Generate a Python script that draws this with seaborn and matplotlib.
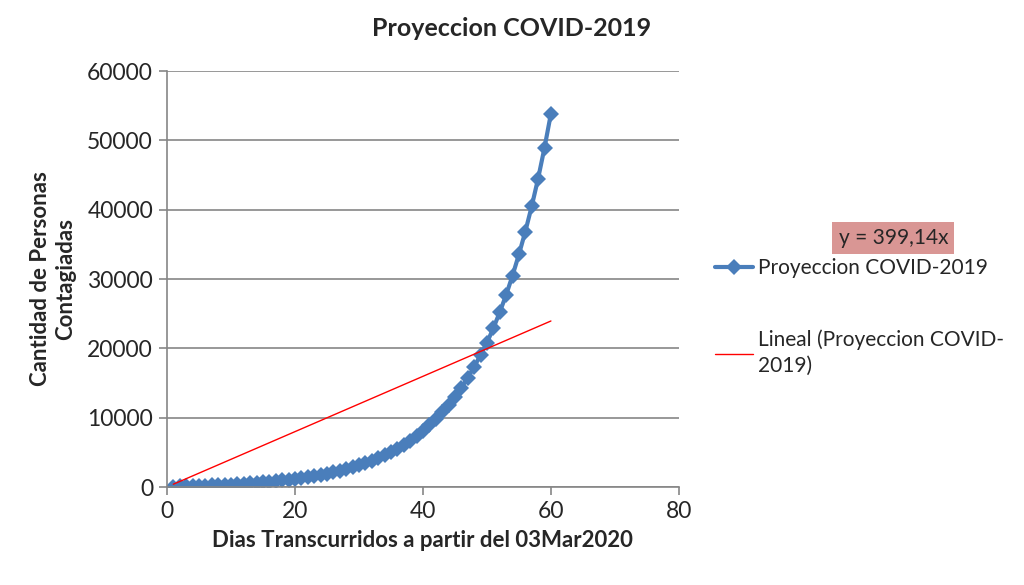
import numpy as np
import pandas as pd
import matplotlib
matplotlib.use("Agg")
import matplotlib.pyplot as plt
import seaborn as sns

# Proyeccion de contagios COVID-2019 con linea de tendencia lineal (y = 399,14x)

dias = list(range(1, 61))
contagiados = [
    60, 80, 105, 130, 160, 190, 225, 265, 310, 360,
    415, 475, 540, 610, 690, 775, 870, 970, 1080, 1200,
    1320, 1450, 1600, 1760, 1930, 2130, 2340, 2580, 2840, 3110,
    3420, 3760, 4140, 4560, 5010, 5510, 6070, 6680, 7350, 8080,
    8890, 9780, 10760, 11830, 13020, 14300, 15750, 17320, 19050, 20810,
    22900, 25200, 27700, 30500, 33550, 36850, 40500, 44500, 48950, 53850,
]

pendiente = 399.14
titulo = "Proyeccion COVID-2019"
serie_label = "Proyeccion COVID-2019"
tendencia_label = "Lineal (Proyeccion COVID-\n2019)"
ecuacion = "y = 399,14x"

df = pd.DataFrame({"dia": dias, "casos": contagiados})
df["tendencia"] = pendiente * df["dia"]

sns.set_style("white")
plt.rcParams["font.family"] = ["Lato", "DejaVu Sans"]

fig = plt.figure(figsize=(10.24, 5.85), dpi=100)
ax = fig.add_axes([0.163, 0.1675, 0.5, 0.711])

sns.lineplot(data=df, x="dia", y="casos", ax=ax, color="#4A7EBB", linewidth=3,
             marker="D", markersize=8, markeredgewidth=0, label=serie_label)
sns.lineplot(data=df, x="dia", y="tendencia", ax=ax, color="#FF0000", linewidth=1,
             label=tendencia_label)

ax.set_xlim(0, 80)
ax.set_ylim(0, 60000)
ax.set_xticks(range(0, 81, 20))
ax.set_yticks(range(0, 60001, 10000))
ax.yaxis.grid(True, color="#868686", linewidth=1.2)
ax.xaxis.grid(False)
for s in ["top", "right"]:
    ax.spines[s].set_visible(False)
for s in ["left", "bottom"]:
    ax.spines[s].set_color("#868686")
    ax.spines[s].set_linewidth(1.2)
ax.tick_params(axis="both", which="major", direction="out", length=6, width=1.2,
               color="#868686", labelsize=16.5, pad=4, bottom=True, left=True)

# el titulo va centrado en la figura, no en el eje
fig.text(0.5, 0.952, titulo, fontsize=18, fontweight="bold", ha="center", va="center")
ax.set_xlabel("Dias Transcurridos a partir del 03Mar2020", fontsize=16,
              fontweight="bold", labelpad=6)
ax.set_ylabel("Cantidad de Personas\nContagiadas", fontsize=16,
              fontweight="bold", labelpad=8, linespacing=1.25)

leg = ax.legend(loc="upper left", bbox_to_anchor=(1.055, 0.57), frameon=False,
                fontsize=15, handlelength=1.8, handletextpad=0.25, labelspacing=2.45,
                borderaxespad=0)
leg.get_texts()[1].set_linespacing(1.4)

fig.text(0.8725, 0.593, ecuacion, fontsize=15, ha="center", va="center",
         bbox=dict(boxstyle="square,pad=0.3", facecolor="#D99694", edgecolor="none"))

fig.savefig("out.png", dpi=100)
